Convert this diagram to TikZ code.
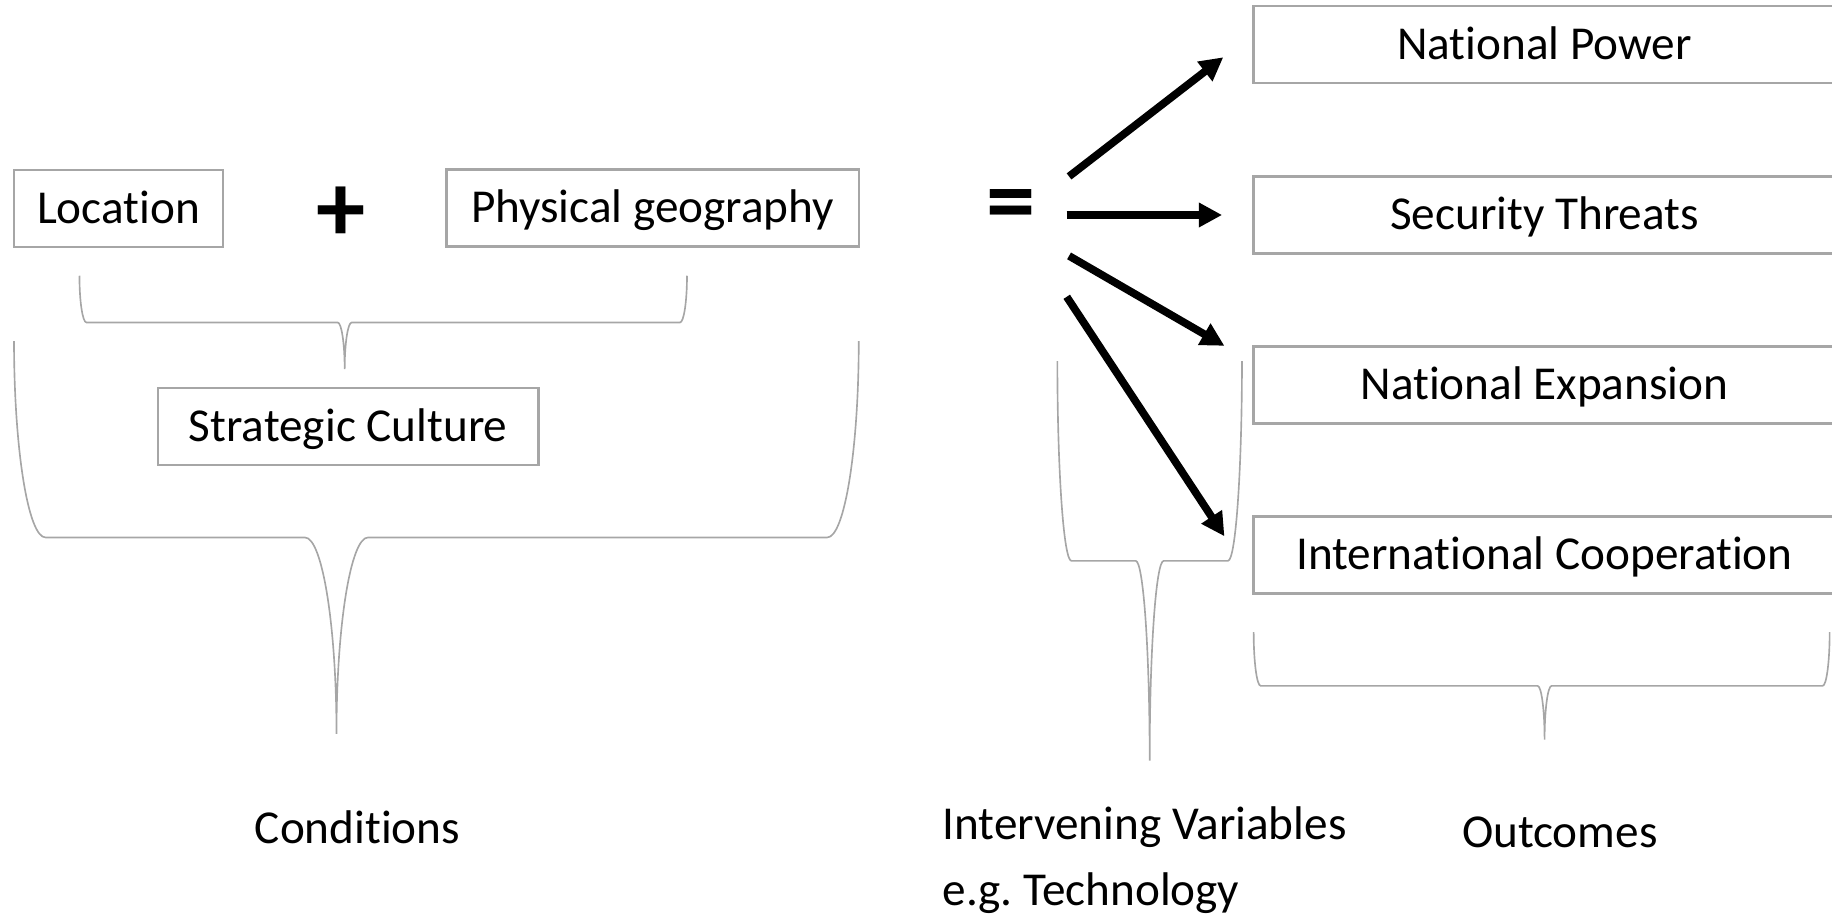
\documentclass[tikz,border=0pt]{standalone}
\usepackage{fontspec}
\setmainfont{Carlito}[Ligatures=NoCommon]
\usetikzlibrary{arrows.meta}
\definecolor{boxgray}{RGB}{166,166,166}
\begin{document}
\begin{tikzpicture}[x=0.1mm,y=-0.1mm,
	every node/.style={inner sep=0pt,font=\fontsize{11.5pt}{16pt}\selectfont},
	box/.style={draw=boxgray,line width=0.6pt,minimum height=6.6mm,text height=3mm,text depth=0.5mm},
	sign/.style={font=\fontsize{24pt}{24pt}\selectfont\bfseries},
	brace/.style={draw=boxgray,line width=0.4pt},
	bigarrow/.style={-{Triangle[length=2mm,width=2mm]},line width=0.66mm}]
		\useasboundingbox (0,0) rectangle (1568,786.5);

		\node[box,minimum width=17.9mm] (loc) at (101.5,178.5) {Location};
		\node[box,minimum width=35.3mm] (phys) at (558.5,178) {Physical geography};
		\node[box,minimum width=32.6mm] (strat) at (298,365) {Strategic Culture};
		\node[sign] (plus) at (292,183) {+};
		\node[sign] (eq) at (865,181) {=};

		\node[box,minimum width=49.8mm] (power) at (1322,38) {National Power};
		\node[box,minimum width=49.8mm] (threat) at (1322,184) {Security Threats};
		\node[box,minimum width=49.8mm] (expan) at (1322,329.5) {National Expansion};
		\node[box,minimum width=49.8mm] (coop) at (1322,475) {International Cooperation};

		\node (cond) at (306,708) {Conditions};
		\node[align=left,anchor=west] (interv) at (806,736) {Intervening Variables\\e.g.\ Technology};
		\node (outc) at (1335,712) {Outcomes};

		\coordinate (s1) at (915,151);  \coordinate (e1) at (1047,49);
		\coordinate (s2) at (913,184);  \coordinate (e2) at (1046,184);
		\coordinate (s3) at (915,219);  \coordinate (e3) at (1048,296);
		\coordinate (s4) at (913,254);  \coordinate (e4) at (1048,459);
		\foreach \i in {1,...,4}
			\draw[bigarrow] (s\i) -- (e\i);

		\foreach \xa/\xb/\xt/\ya/\h/\r in {68/588/295/236/40/6, 12/735/288/292/168/27, 905/1063/984/309/171/12, 1073/1566/1322/541/46/6}
			\draw[brace] (\xa,\ya) .. controls (\xa,{\ya+.55*\h}) and ({\xa+.45*\r},{\ya+\h}) .. ({\xa+\r},{\ya+\h})
				-- ({\xt-\r},{\ya+\h}) .. controls ({\xt-.45*\r},{\ya+\h}) and (\xt,{\ya+1.45*\h}) .. (\xt,{\ya+2*\h})
				.. controls (\xt,{\ya+1.45*\h}) and ({\xt+.45*\r},{\ya+\h}) .. ({\xt+\r},{\ya+\h})
				-- ({\xb-\r},{\ya+\h}) .. controls ({\xb-.45*\r},{\ya+\h}) and (\xb,{\ya+.55*\h}) .. (\xb,\ya);
	\end{tikzpicture}
\end{document}
